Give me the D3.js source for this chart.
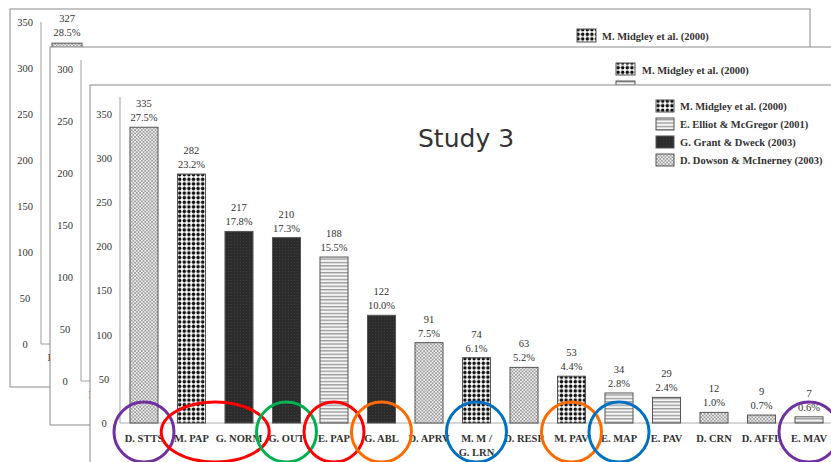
<!DOCTYPE html>
<html>
<head>
<meta charset="utf-8">
<script src="https://cdn.jsdelivr.net/npm/d3@7"></script>
<style>
  body { margin: 0; background: #fff; }
  svg { display: block; }
  text { font-family: "Liberation Serif", "DejaVu Serif", serif; fill: #333; }
</style>
</head>
<body>
<svg width="831" height="462"></svg>
<script>
// data for the front slide (Study 3)
let categories = [
  ["D. STTS"], ["M. PAP"], ["G. NORM"], ["G. OUT"], ["E. PAP"], ["G. ABL"],
  ["D. APRV"], ["M. M /", "G. LRN"], ["D. RESP"], ["M. PAV"], ["E. MAP"],
  ["E. PAV"], ["D. CRN"], ["D. AFFL"], ["E. MAV"]
];
let counts = [335, 282, 217, 210, 188, 122, 91, 74, 63, 53, 34, 29, 12, 9, 7];
let percents = ["27.5%", "23.2%", "17.8%", "17.3%", "15.5%", "10.0%", "7.5%", "6.1%",
  "5.2%", "4.4%", "2.8%", "2.4%", "1.0%", "0.7%", "0.6%"];
let studies = ["D", "M", "G", "G", "E", "G", "D", "M", "D", "M", "E", "E", "D", "D", "E"];

let legendKeys = ["M", "E", "G", "D"];
let legendLabels = ["M. Midgley et al. (2000)", "E. Elliot & McGregor (2001)",
  "G. Grant & Dweck (2003)", "D. Dowson & McInerney (2003)"];

let yTicks3 = [0, 50, 100, 150, 200, 250, 300, 350];

// slides behind (only what peeks out)
let yTicks1 = [0, 50, 100, 150, 200, 250, 300, 350];
let back1Count = [327];
let back1Percent = ["28.5%"];
let yTicks2 = [0, 50, 100, 150, 200, 250, 300];

// highlight rings: groups of category indexes
let rings = [
  { cats: [0], color: "#7030a0" },
  { cats: [1, 2], color: "#ff0000" },
  { cats: [3], color: "#00b050" },
  { cats: [4], color: "#ff0000" },
  { cats: [5], color: "#ff6a00" },
  { cats: [7], color: "#0070c0" },
  { cats: [9], color: "#ff6a00" },
  { cats: [10], color: "#0070c0" },
  { cats: [14], color: "#7030a0" }
];

let svg = d3.select("svg");
let defs = svg.append("defs");

// patterns
let pD = defs.append("pattern").attr("id", "pat-D").attr("patternUnits", "userSpaceOnUse")
  .attr("width", 3.4).attr("height", 3.4);
pD.append("rect").attr("width", 3.4).attr("height", 3.4).attr("fill", "#f2f2f2");
pD.append("rect").attr("width", 1.7).attr("height", 1.7).attr("fill", "#9a9a9a");
pD.append("rect").attr("x", 1.7).attr("y", 1.7).attr("width", 1.7).attr("height", 1.7).attr("fill", "#9a9a9a");

let pM = defs.append("pattern").attr("id", "pat-M").attr("patternUnits", "userSpaceOnUse")
  .attr("width", 4.6).attr("height", 4.6);
pM.append("rect").attr("width", 4.6).attr("height", 4.6).attr("fill", "#fff");
pM.append("circle").attr("cx", 2.3).attr("cy", 2.3).attr("r", 1.75).attr("fill", "#111");

let pE = defs.append("pattern").attr("id", "pat-E").attr("patternUnits", "userSpaceOnUse")
  .attr("width", 4).attr("height", 3.4);
pE.append("rect").attr("width", 4).attr("height", 3.4).attr("fill", "#f4f4f4");
pE.append("rect").attr("y", 0).attr("width", 4).attr("height", 1.3).attr("fill", "#999");

let pG = defs.append("pattern").attr("id", "pat-G").attr("patternUnits", "userSpaceOnUse")
  .attr("width", 3).attr("height", 3);
pG.append("rect").attr("width", 3).attr("height", 3).attr("fill", "#2c2c2c");
pG.append("rect").attr("width", 1).attr("height", 1).attr("fill", "#3d3d3d");

let fillFor = (s) => "url(#pat-" + s + ")";

function slideFrame(x, y) {
  let g = svg.append("g").attr("transform", `translate(${x},${y})`);
  g.append("rect").attr("width", 800).attr("height", 378)
    .attr("fill", "#fff").attr("stroke", "#8c8c8c").attr("stroke-width", 1);
  return g;
}

function yAxis(g, scale, ticks, axisX, top) {
  g.append("line").attr("x1", axisX).attr("x2", axisX)
    .attr("y1", top).attr("y2", scale(0))
    .attr("stroke", "#a0a0a0");
  g.append("g")
    .attr("transform", `translate(${axisX - 10},0)`)
    .call(d3.axisLeft(scale).tickValues(ticks).tickSize(0).tickPadding(0))
    .call(a => a.select(".domain").remove())
    .selectAll("text")
    .style("font-size", "10.5px").attr("fill", "#333").attr("text-anchor", "middle")
    .attr("dx", "-6");
}

// ---- slide 1 (back)
let s1 = slideFrame(10, 9);
let y1 = d3.scaleLinear().domain([0, 350]).range([335, 13]);
yAxis(s1, y1, yTicks1, 31, 13);
s1.append("line").attr("x1", 31).attr("x2", 60).attr("y1", y1(0)).attr("y2", y1(0)).attr("stroke", "#a0a0a0");
s1.selectAll(".bar").data(back1Count).enter().append("rect")
  .attr("x", 42).attr("width", 30)
  .attr("y", d => y1(d)).attr("height", d => y1(0) - y1(d))
  .attr("fill", fillFor("D")).attr("stroke", "#555");
s1.append("text").attr("x", 57).attr("y", y1(back1Count[0]) - 21).attr("text-anchor", "middle")
  .style("font-size", "10.5px").text(back1Count[0]);
s1.append("text").attr("x", 57).attr("y", y1(back1Count[0]) - 7).attr("text-anchor", "middle")
  .style("font-size", "10.5px").text(back1Percent[0]);
s1.append("text").attr("x", 57).attr("y", y1(0) + 17).attr("text-anchor", "middle")
  .style("font-size", "10.5px").style("font-weight", "bold").text(categories[0][0]);
s1.append("rect").attr("x", 567).attr("y", 20).attr("width", 19).attr("height", 13)
  .attr("fill", fillFor("M")).attr("stroke", "#555");
s1.append("text").attr("x", 592).attr("y", 31).style("font-size", "10.5px")
  .style("font-weight", "bold").attr("fill", "#222").text(legendLabels[0]);

// ---- slide 2 (middle)
let s2 = slideFrame(50, 47);
let y2 = d3.scaleLinear().domain([0, 300]).range([334, 22]);
yAxis(s2, y2, yTicks2, 31, 13);
s2.append("line").attr("x1", 31).attr("x2", 60).attr("y1", y2(0)).attr("y2", y2(0)).attr("stroke", "#a0a0a0");
s2.append("text").attr("x", 58).attr("y", y2(0) + 17).attr("text-anchor", "middle")
  .style("font-size", "10.5px").style("font-weight", "bold").text(categories[0][0]);
legendKeys.slice(0, 2).forEach((k, i) => {
  s2.append("rect").attr("x", 566).attr("y", 16 + i * 18).attr("width", 19).attr("height", 12)
    .attr("fill", fillFor(k)).attr("stroke", "#555");
  s2.append("text").attr("x", 592).attr("y", 27 + i * 18).style("font-size", "10.5px")
    .style("font-weight", "bold").attr("fill", "#222").text(legendLabels[i]);
});

// ---- slide 3 (front)
let s3 = slideFrame(90, 85);
let x3 = d3.scaleBand().domain(d3.range(categories.length))
  .range([30, 743]).paddingInner(0.41).paddingOuter(0.21);
let y3 = d3.scaleLinear().domain([0, 350]).range([338, 29]);

yAxis(s3, y3, yTicks3, 30, 12);
s3.append("line").attr("x1", 30).attr("x2", 800).attr("y1", y3(0)).attr("y2", y3(0))
  .attr("stroke", "#b0b0b0");

let bars = s3.selectAll(".bar").data(counts).enter().append("g").attr("class", "bar");
bars.append("rect")
  .attr("x", (d, i) => x3(i)).attr("width", x3.bandwidth())
  .attr("y", d => y3(d)).attr("height", d => y3(0) - y3(d))
  .attr("fill", (d, i) => fillFor(studies[i]))
  .attr("stroke", "#555").attr("stroke-width", 1);
bars.append("text")
  .attr("x", (d, i) => x3(i) + x3.bandwidth() / 2).attr("y", d => y3(d) - 20)
  .attr("text-anchor", "middle").style("font-size", "10.5px").text(d => d);
bars.append("text")
  .attr("x", (d, i) => x3(i) + x3.bandwidth() / 2).attr("y", d => y3(d) - 6)
  .attr("text-anchor", "middle").style("font-size", "10.5px").text((d, i) => percents[i]);

let labels = s3.selectAll(".cat").data(categories).enter().append("text")
  .attr("class", "cat")
  .attr("x", (d, i) => x3(i) + x3.bandwidth() / 2)
  .attr("y", y3(0) + 19)
  .attr("text-anchor", "middle")
  .style("font-size", "10.5px").style("font-weight", "bold").attr("fill", "#3a3a3a");
labels.selectAll("tspan").data(d => d).enter().append("tspan")
  .attr("x", function () { return d3.select(this.parentNode).attr("x"); })
  .attr("dy", (d, j) => j === 0 ? 0 : 14)
  .text(d => d);

legendKeys.forEach((k, i) => {
  s3.append("rect").attr("x", 566).attr("y", 15 + i * 18).attr("width", 18).attr("height", 12)
    .attr("fill", fillFor(k)).attr("stroke", "#555");
  s3.append("text").attr("x", 590).attr("y", 25 + i * 18).style("font-size", "10.5px")
    .style("font-weight", "bold").attr("fill", "#222").text(legendLabels[i]);
});

s3.append("text").attr("x", 328).attr("y", 62)
  .style("font-family", "'DejaVu Sans', sans-serif").style("font-size", "25px")
  .attr("fill", "#1f3a7a").text("Study 3");

// rings drawn on top
svg.append("g").attr("transform", "translate(90,85)")
  .selectAll("ellipse").data(rings).enter().append("ellipse")
  .attr("cx", d => d3.mean(d.cats, c => x3(c) + x3.bandwidth() / 2))
  .attr("cy", y3(0) + 9)
  .attr("rx", d => 30 + (d.cats.length - 1) * 24)
  .attr("ry", 30)
  .attr("fill", "none").attr("stroke", d => d.color).attr("stroke-width", 3);
</script>
</body>
</html>
